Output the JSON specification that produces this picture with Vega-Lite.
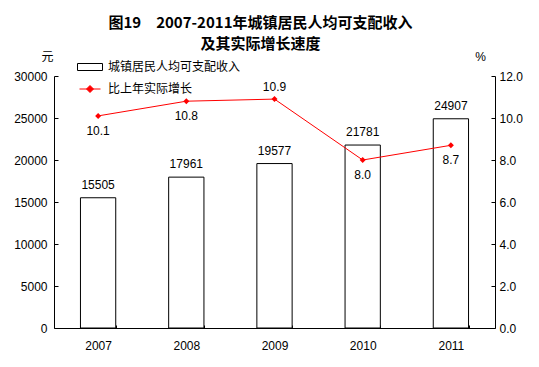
{
  "$schema": "https://vega.github.io/schema/vega-lite/v6.json",
  "width": 441,
  "height": 252,
  "autosize": {"type": "none"},
  "padding": {"left": 54, "top": 76, "right": 44, "bottom": 39},
  "background": "white",
  "title": {
    "text": ["图19　2007-2011年城镇居民人均可支配收入", "及其实际增长速度"],
    "font": "Noto Sans CJK SC",
    "fontSize": 15,
    "fontWeight": "bold",
    "color": "black",
    "anchor": "middle",
    "lineHeight": 21,
    "offset": -2,
    "dx": -14
  },
  "config": {
    "view": {"stroke": null},
    "axis": {
      "labelFont": "Liberation Sans",
      "labelFontSize": 12,
      "labelColor": "black",
      "domainColor": "black",
      "tickColor": "black",
      "grid": false
    },
    "legend": {
      "labelFont": "Noto Sans CJK SC",
      "labelFontSize": 12,
      "labelColor": "black",
      "padding": 0
    }
  },
  "data": {
    "values": [
      {"year": "2007", "income": 15505, "growth": 10.1},
      {"year": "2008", "income": 17961, "growth": 10.8},
      {"year": "2009", "income": 19577, "growth": 10.9},
      {"year": "2010", "income": 21781, "growth": 8.0},
      {"year": "2011", "income": 24907, "growth": 8.7}
    ]
  },
  "encoding": {
    "x": {
      "field": "year",
      "type": "nominal",
      "scale": {"paddingInner": 0.6, "paddingOuter": 0.3},
      "axis": {
        "title": null,
        "labelAngle": 0,
        "tickBand": "extent",
        "tickSize": -3,
        "labelPadding": 15
      }
    }
  },
  "layer": [
    {
      "layer": [
        {
          "mark": {"type": "bar", "stroke": "black", "strokeWidth": 1},
          "encoding": {
            "y": {
              "field": "income",
              "type": "quantitative",
              "scale": {"domain": [0, 30000]},
              "axis": {
                "title": "元",
                "titleFont": "Noto Sans CJK SC",
                "titleFontSize": 12,
                "titleFontWeight": "normal",
                "titleColor": "black",
                "titleAngle": 0,
                "titleX": -7,
                "titleY": -13,
                "titleAlign": "center",
                "values": [0, 5000, 10000, 15000, 20000, 25000, 30000],
                "format": "d",
                "tickSize": -4,
                "labelPadding": 11
              }
            },
            "fill": {
              "datum": "城镇居民人均可支配收入",
              "scale": {"range": ["white"]},
              "legend": {
                "title": null,
                "orient": "none",
                "legendX": 23,
                "legendY": -22,
                "symbolType": "M-1,-0.28H1V0.28H-1Z",
                "symbolSize": 625,
                "symbolStrokeColor": "black",
                "symbolStrokeWidth": 1,
                "labelOffset": 5
              }
            }
          }
        },
        {
          "mark": {"type": "text", "baseline": "bottom", "dy": -6, "font": "Liberation Sans", "fontSize": 12, "color": "black"},
          "encoding": {
            "y": {"field": "income", "type": "quantitative"},
            "text": {"field": "income", "type": "quantitative", "format": "d"}
          }
        }
      ]
    },
    {
      "layer": [
        {
          "mark": {"type": "line", "color": "red", "strokeWidth": 1},
          "encoding": {
            "y": {
              "field": "growth",
              "type": "quantitative",
              "scale": {"domain": [0, 12]},
              "axis": {
                "orient": "right",
                "title": "%",
                "titleFont": "Liberation Sans",
                "titleFontSize": 12,
                "titleFontWeight": "normal",
                "titleColor": "black",
                "titleAngle": 0,
                "titleX": -15,
                "titleY": -13,
                "titleAlign": "center",
                "values": [0, 2, 4, 6, 8, 10, 12],
                "format": ".1f",
                "tickSize": -4,
                "labelPadding": 8
              }
            },
            "stroke": {
              "datum": "比上年实际增长",
              "scale": {"range": ["red"]},
              "legend": {
                "title": null,
                "orient": "none",
                "legendX": 23,
                "legendY": 0,
                "symbolType": "M-0.84,0H0.84M-0.28,0L0,-0.28L0.28,0L0,0.28Z",
                "symbolSize": 625,
                "symbolFillColor": "red",
                "symbolStrokeColor": "red",
                "symbolStrokeWidth": 1,
                "labelOffset": 5
              }
            }
          }
        },
        {
          "mark": {"type": "point", "shape": "diamond", "filled": true, "color": "red", "size": 36, "opacity": 1},
          "encoding": {"y": {"field": "growth", "type": "quantitative"}}
        },
        {
          "transform": [{"filter": "datum.year != '2009'"}],
          "mark": {"type": "text", "baseline": "top", "dy": 10, "font": "Liberation Sans", "fontSize": 12, "color": "black"},
          "encoding": {
            "y": {"field": "growth", "type": "quantitative"},
            "text": {"field": "growth", "type": "quantitative", "format": ".1f"}
          }
        },
        {
          "transform": [{"filter": "datum.year == '2009'"}],
          "mark": {"type": "text", "baseline": "bottom", "dy": -5, "font": "Liberation Sans", "fontSize": 12, "color": "black"},
          "encoding": {
            "y": {"field": "growth", "type": "quantitative"},
            "text": {"field": "growth", "type": "quantitative", "format": ".1f"}
          }
        }
      ]
    }
  ],
  "resolve": {"scale": {"y": "independent"}}
}
